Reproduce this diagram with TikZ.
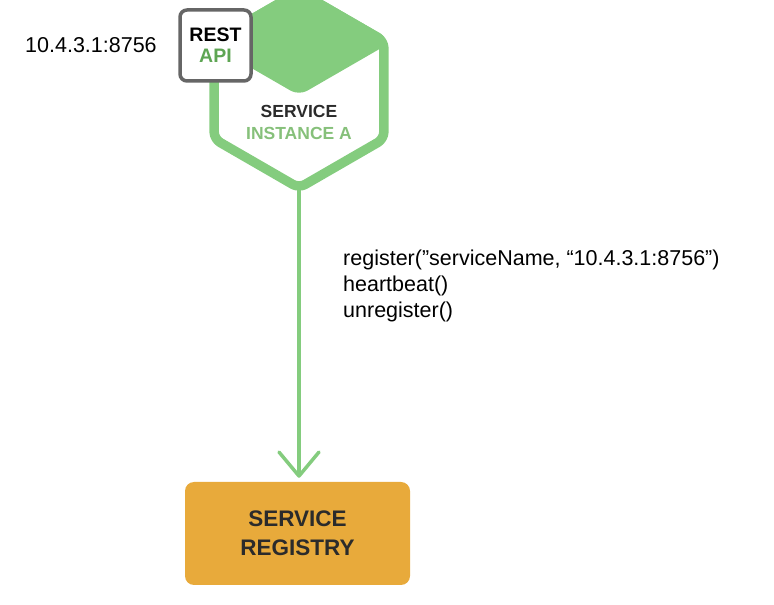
\documentclass[tikz,border=0pt]{standalone}
\usepackage{fontspec}
\setmainfont{Liberation Sans}
\usepackage{xcolor}
\usepackage{tikz}
\usetikzlibrary{positioning,arrows.meta}
\definecolor{svcgreen}{HTML}{84CC7E}
\definecolor{apigreen}{HTML}{5EA553}
\definecolor{instgreen}{HTML}{86C07A}
\definecolor{apigray}{HTML}{666666}
\definecolor{regorange}{HTML}{E8AA3B}
\definecolor{inkdark}{HTML}{2B2B2B}
\tikzset{
  hexline/.style={line width=9.5pt, draw=svcgreen, line join=round, rounded corners=7pt},
  hextop/.style={fill=svcgreen, draw=svcgreen, line width=9.5pt, line join=round, rounded corners=7pt},
  apibox/.style={draw=apigray, line width=3.5pt, fill=white, rounded corners=7pt,
    minimum width=71pt, minimum height=71pt, inner sep=0pt, align=center,
    font=\bfseries\fontsize{19.5}{21}\selectfont},
  regbox/.style={fill=regorange, rounded corners=9pt, minimum width=225pt,
    minimum height=103pt, align=center, text=inkdark,
    font=\bfseries\fontsize{22.5}{29}\selectfont},
  svctext/.style={align=center, text=inkdark, font=\bfseries\fontsize{17.5}{22}\selectfont},
  plaintext/.style={text=black, font=\fontsize{21.5}{26}\selectfont},
  callarrow/.style={draw=svcgreen, line width=3.5pt, line cap=round,
    -{Straight Barb[length=24pt, width=40pt, line width=3.5pt, round]}},
}
\begin{document}
\begin{tikzpicture}[x=1pt, y=1pt]
\useasboundingbox (0,0) rectangle (774,605);
\begin{scope}
\clip (0,0) rectangle (774,605);
% service instance hexagon
\coordinate (hex) at (299,515);
\fill[hextop] (hex) -- ++(30:98) -- ++(150:98) -- ++(210:98) -- cycle;
\draw[hexline] (hex) ++(90:98) -- ++(-30:98) -- ++(-90:98) -- ++(-150:98)
  -- ++(150:98) -- ++(90:98) -- cycle;
\coordinate (hexbot) at (299,417);
\end{scope}
\node[svctext] (svc) at (299,483) {SERVICE\\\textcolor{instgreen}{INSTANCE A}};
\node[apibox] (api) at (215.5,559.5) {REST\\\textcolor{apigreen}{API}};
\node[plaintext, left=18pt of api] (addr) {10.4.3.1:8756};
% registry
\node[regbox] (reg) at (297.5,71.5) {SERVICE\\REGISTRY};
\draw[callarrow] (hexbot) -- ([yshift=4pt]hexbot |- reg.north);
\node[plaintext, anchor=north west, align=left, inner sep=0pt] (calls) at (343,355)
  {register(”serviceName, “10.4.3.1:8756”)\\heartbeat()\\unregister()};
\end{tikzpicture}
\end{document}
